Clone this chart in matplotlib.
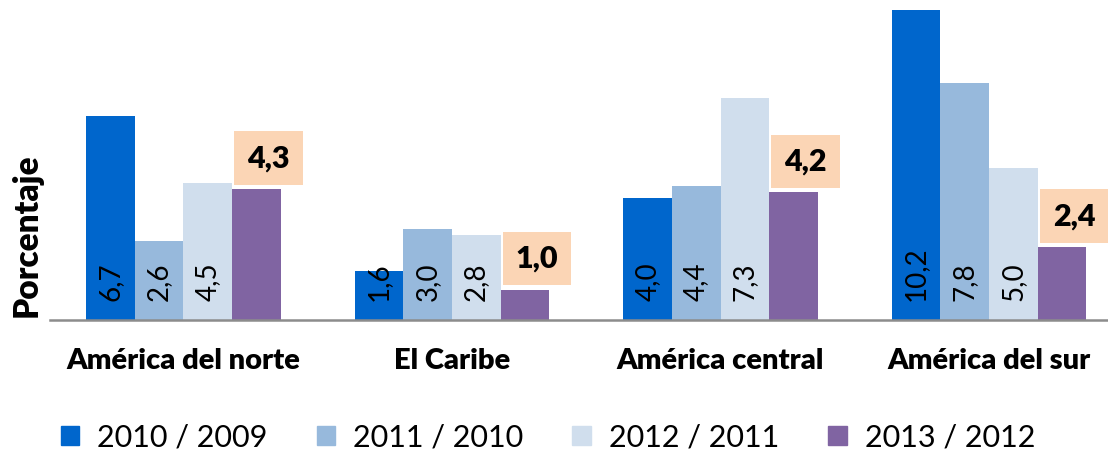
import numpy as np
import matplotlib.pyplot as plt
from matplotlib.patches import Patch

plt.rcParams['font.family'] = ['Lato', 'DejaVu Sans']

regions = ['América del norte', 'El Caribe', 'América central', 'América del sur']
series = ['2010 / 2009', '2011 / 2010', '2012 / 2011', '2013 / 2012']
v2010 = [6.7, 1.6, 4.0, 10.2]
v2011 = [2.6, 3.0, 4.4, 7.8]
v2012 = [4.5, 2.8, 7.3, 5.0]
v2013 = [4.3, 1.0, 4.2, 2.4]
colors = ['#0066CC', '#97B9DC', '#D0DEED', '#8064A2']


def fmt(v):
    return '{:.1f}'.format(v).replace('.', ',')


fig = plt.figure(figsize=(11.08, 4.51), dpi=100)
ax = fig.add_axes([50 / 1108, 131 / 451, 1058 / 1108, 320 / 451])

index = np.arange(len(regions))
bar_width = 0.181
values = [v2010, v2011, v2012, v2013]

for i, (vals, c) in enumerate(zip(values, colors)):
    x = index + (i - 1.5) * bar_width
    ax.bar(x, vals, bar_width, color=c, label=series[i], zorder=2)
    for xi, v in zip(x, vals):
        if i < 3:
            ax.text(xi, 0.62, fmt(v), rotation=90, ha='center', va='bottom',
                    fontsize=20, color='black', zorder=3)
        else:
            ax.text(xi + 0.045, v + 0.12 + 0.9, fmt(v), ha='center', va='center',
                    fontsize=22, fontweight='heavy', color='black', zorder=3,
                    bbox=dict(boxstyle='square,pad=0.42', fc='#FBD5B5', ec='none'))

ax.set_xlim(-0.497, 3.443)
ax.set_ylim(0, 10.53)
for s in ['top', 'right', 'left']:
    ax.spines[s].set_visible(False)
ax.spines['bottom'].set_color('#8C8C8C')
ax.spines['bottom'].set_linewidth(1.8)
ax.set_yticks([])
ax.set_xticks(index)
ax.set_xticklabels(regions, fontsize=21, fontweight='heavy')
ax.tick_params(axis='x', length=0, pad=20)

fig.text(27 / 1108, 1 - 235 / 451, 'Porcentaje', rotation=90, ha='center', va='center',
         fontsize=24, fontweight='heavy')

handles = [Patch(color=c) for c in colors]
fig.legend(handles, series, loc='center', bbox_to_anchor=(548 / 1108, 1 - 437 / 451), ncol=4,
           frameon=False, fontsize=22, handlelength=0.6, handleheight=0.6,
           handletextpad=0.6, columnspacing=1.6)

fig.savefig('out.png', dpi=100)
